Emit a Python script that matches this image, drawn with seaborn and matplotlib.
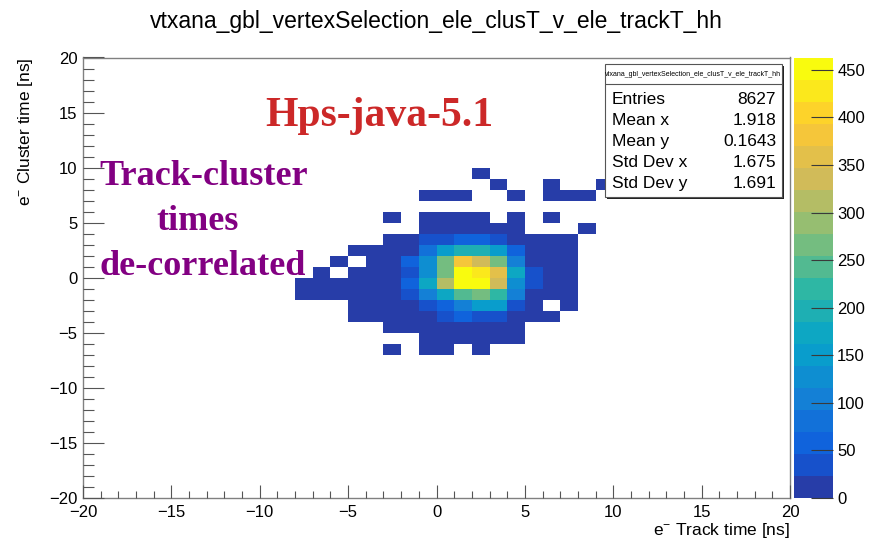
import numpy as np
import pandas as pd
import matplotlib
matplotlib.use("Agg")
import matplotlib.pyplot as plt
from matplotlib.colors import LinearSegmentedColormap, ListedColormap
from matplotlib.patches import Rectangle
from matplotlib.lines import Line2D
from matplotlib.ticker import MultipleLocator
import seaborn as sns

# ---------------- data ----------------
title = "vtxana_gbl_vertexSelection_ele_clusT_v_ele_trackT_hh"
x_label = r"e$^{-}$ Track time [ns]"
y_label = r"e$^{-}$ Cluster time [ns]"

# lower bin edges (1 ns bins)
track_time_bins = [-8, -7, -6, -5, -4, -3, -2, -1, 0, 1, 2, 3, 4, 5, 6, 7, 8, 9]
cluster_time_bins = [9, 8, 7, 6, 5, 4, 3, 2, 1, 0, -1, -2, -3, -4, -5, -6, -7]

# counts per cell, one row per cluster-time bin, columns follow track_time_bins
counts_y9 = [0, 0, 0, 0, 0, 0, 0, 0, 0, 0, 1, 0, 0, 0, 0, 0, 0, 0]
counts_y8 = [0, 0, 0, 0, 0, 0, 0, 0, 0, 0, 0, 1, 0, 0, 1, 0, 0, 1]
counts_y7 = [0, 0, 0, 0, 0, 0, 0, 1, 1, 1, 0, 0, 1, 0, 1, 1, 1, 0]
counts_y6 = [0, 0, 0, 0, 0, 0, 0, 0, 0, 0, 0, 0, 0, 0, 0, 0, 0, 0]
counts_y5 = [0, 0, 0, 0, 0, 1, 0, 2, 3, 3, 2, 0, 1, 0, 1, 0, 0, 0]
counts_y4 = [0, 0, 0, 0, 0, 0, 0, 4, 6, 8, 7, 5, 3, 0, 0, 0, 1, 0]
counts_y3 = [0, 0, 0, 0, 0, 1, 4, 30, 42, 55, 52, 38, 12, 4, 2, 1, 0, 0]
counts_y2 = [0, 0, 0, 1, 2, 5, 18, 80, 152, 198, 194, 145, 60, 14, 3, 1, 0, 0]
counts_y1 = [0, 0, 1, 0, 2, 8, 62, 128, 268, 385, 338, 262, 100, 18, 3, 1, 0, 0]
counts_y0 = [0, 1, 0, 2, 5, 12, 40, 130, 270, 463, 425, 362, 170, 36, 6, 2, 0, 0]
counts_ym1 = [1, 1, 2, 3, 6, 14, 56, 172, 315, 455, 448, 332, 124, 32, 5, 1, 0, 0]
counts_ym2 = [1, 1, 1, 2, 4, 10, 36, 102, 168, 240, 262, 216, 98, 16, 3, 1, 0, 0]
counts_ym3 = [0, 0, 0, 1, 2, 4, 12, 36, 60, 100, 148, 142, 34, 9, 0, 1, 0, 0]
counts_ym4 = [0, 0, 0, 1, 1, 3, 5, 15, 28, 50, 30, 26, 10, 3, 1, 0, 0, 0]
counts_ym5 = [0, 0, 0, 0, 0, 1, 2, 5, 8, 10, 9, 5, 2, 0, 0, 0, 0, 0]
counts_ym6 = [0, 0, 0, 0, 0, 0, 0, 2, 3, 3, 2, 2, 1, 0, 0, 0, 0, 0]
counts_ym7 = [0, 0, 0, 0, 0, 1, 0, 1, 1, 0, 1, 0, 0, 0, 0, 0, 0, 0]

z_max = 463
cbar_ticks = [0, 50, 100, 150, 200, 250, 300, 350, 400, 450]

stat_names = ["Entries", "Mean x", "Mean y", "Std Dev x", "Std Dev y"]
stat_values = ["8627", "1.918", "0.1643", "1.675", "1.691"]

label_version = "Hps-java-5.1"
label_note = ["Track-cluster", "times", "de-correlated"]

# ---------------- build long table ----------------
rows = [counts_y9, counts_y8, counts_y7, counts_y6, counts_y5, counts_y4,
        counts_y3, counts_y2, counts_y1, counts_y0, counts_ym1, counts_ym2,
        counts_ym3, counts_ym4, counts_ym5, counts_ym6, counts_ym7]
recs = []
for yb, row in zip(cluster_time_bins, rows):
    for xb, n in zip(track_time_bins, row):
        if n > 0:
            recs.append((xb + 0.5, yb + 0.5, n))
df = pd.DataFrame(recs, columns=["track", "cluster", "n"])

# ROOT kBird palette, 20 contour levels
stops = [0.0, 0.125, 0.25, 0.375, 0.5, 0.625, 0.75, 0.875, 1.0]
red = [0.2082, 0.0592, 0.0780, 0.0232, 0.1802, 0.5301, 0.8186, 0.9956, 0.9764]
green = [0.1664, 0.3599, 0.5041, 0.6419, 0.7178, 0.7492, 0.7328, 0.7862, 0.9832]
blue = [0.5293, 0.8684, 0.8385, 0.7914, 0.6425, 0.4662, 0.3499, 0.1968, 0.0539]
bird = LinearSegmentedColormap.from_list(
    "bird", list(zip(stops, zip(red, green, blue))), N=255)
ncont = 20
band_colors = [bird(int((i + 0.99) * 255 / ncont) / 254.0) for i in range(ncont)]
cmap = ListedColormap(band_colors)

# ---------------- figure ----------------
sns.set_style("ticks")
plt.rcParams["font.family"] = ["Liberation Sans", "DejaVu Sans"]
plt.rcParams["mathtext.fontset"] = "custom"
plt.rcParams["mathtext.rm"] = "Liberation Sans"
plt.rcParams["mathtext.it"] = "Liberation Sans:italic"
plt.rcParams["axes.unicode_minus"] = True
plt.rcParams["axes.axisbelow"] = False
plt.rcParams["text.color"] = "black"
plt.rcParams["axes.labelcolor"] = "black"
plt.rcParams["xtick.color"] = "black"
plt.rcParams["ytick.color"] = "black"

W, H = 872, 540
fig = plt.figure(figsize=(W / 100, H / 100), dpi=100)


def fx(px):
    return px / W


def fy(py):
    return 1 - py / H


L, R, T, B = 83, 790, 57.5, 498
ax = fig.add_axes([fx(L), fy(B), fx(R) - fx(L), fy(T) - fy(B)])
cax = fig.add_axes([fx(794), fy(B), fx(833) - fx(794), fy(T) - fy(B)])

sns.histplot(data=df, x="track", y="cluster", weights="n",
             bins=40, binrange=((-20, 20), (-20, 20)),
             cmap=cmap, vmin=0, vmax=z_max,
             cbar=True, cbar_ax=cax, ax=ax)

ax.set_axisbelow(False)
ax.set_xlim(-20, 20)
ax.set_ylim(-20, 20)
ax.xaxis.set_major_locator(MultipleLocator(5))
ax.xaxis.set_minor_locator(MultipleLocator(1))
ax.yaxis.set_major_locator(MultipleLocator(5))
ax.yaxis.set_minor_locator(MultipleLocator(1))
tc = "#555555"
ax.tick_params(axis="x", which="major", direction="in", length=9.5, width=0.8,
               color=tc, labelcolor="black", labelsize=12, pad=5,
               bottom=True, top=False)
ax.tick_params(axis="x", which="minor", direction="in", length=4.8, width=0.8,
               color=tc, bottom=True, top=False)
ax.tick_params(axis="y", which="major", direction="in", length=15, width=0.8,
               color=tc, labelcolor="black", labelsize=12, pad=4,
               left=True, right=False)
ax.tick_params(axis="y", which="minor", direction="in", length=7.8, width=0.8,
               color=tc, left=True, right=False)
for s in ax.spines.values():
    s.set_visible(True)
    s.set_color("#808080")
    s.set_linewidth(1.0)

ax.set_xlabel(x_label, fontsize=12.5, loc="right", labelpad=1, color="black")
ax.set_ylabel(y_label, fontsize=12.5, loc="top", labelpad=10, color="black")

# colorbar styling
cax.set_axisbelow(False)
cax.set_ylim(0, z_max)
cax.yaxis.set_ticks_position("right")
cax.set_yticks(cbar_ticks)
cax.tick_params(axis="y", which="major", direction="in", length=15.5,
                width=0.8, color="#3a3a3a", labelcolor="black", labelsize=12,
                pad=3, left=False, right=True, labelleft=False,
                labelright=True)
cax.minorticks_off()
for s in cax.spines.values():
    s.set_visible(False)

# title
fig.text(0.5, fy(28), title, ha="center", va="baseline", fontsize=16.5,
         color="black")

# stats box
bx0, bx1, by0, by1 = 605, 782, 64, 197
fig.add_artist(Rectangle((fx(bx0) + 2 / W, fy(by1) - 2 / H),
                         fx(bx1) - fx(bx0), fy(by0) - fy(by1),
                         transform=fig.transFigure, facecolor="#222222",
                         edgecolor="none", zorder=5))
fig.add_artist(Rectangle((fx(bx0), fy(by1)), fx(bx1) - fx(bx0),
                         fy(by0) - fy(by1), transform=fig.transFigure,
                         facecolor="white", edgecolor="#555555",
                         linewidth=0.8, zorder=6))
fig.add_artist(Line2D([fx(bx0), fx(bx1)], [fy(84), fy(84)],
                      transform=fig.transFigure, color="#555555",
                      linewidth=0.8, zorder=7))
fig.text(fx((bx0 + bx1) / 2), fy(74), title, ha="center", va="center",
         fontsize=5, zorder=8, color="black")
baselines = [104.5, 125.3, 146.2, 167.0, 188.0]
for name, val, yb in zip(stat_names, stat_values, baselines):
    fig.text(fx(612), fy(yb), name, ha="left", va="baseline", fontsize=12.5,
             zorder=8, color="black")
    fig.text(fx(776), fy(yb), val, ha="right", va="baseline", fontsize=12.5,
             zorder=8, color="black")

# annotations
fig.text(fx(379), fy(125.7), label_version, ha="center", va="baseline",
         fontsize=30, fontweight="bold", family="Liberation Serif",
         color="#cc2828", zorder=9)
for txt, cx, yb in zip(label_note, [203.5, 197.5, 203], [185, 230, 275]):
    fig.text(fx(cx), fy(yb), txt, ha="center", va="baseline", fontsize=26,
             fontweight="bold", family="Liberation Serif", color="#820082",
             zorder=9)

fig.savefig("out.png", dpi=100)
